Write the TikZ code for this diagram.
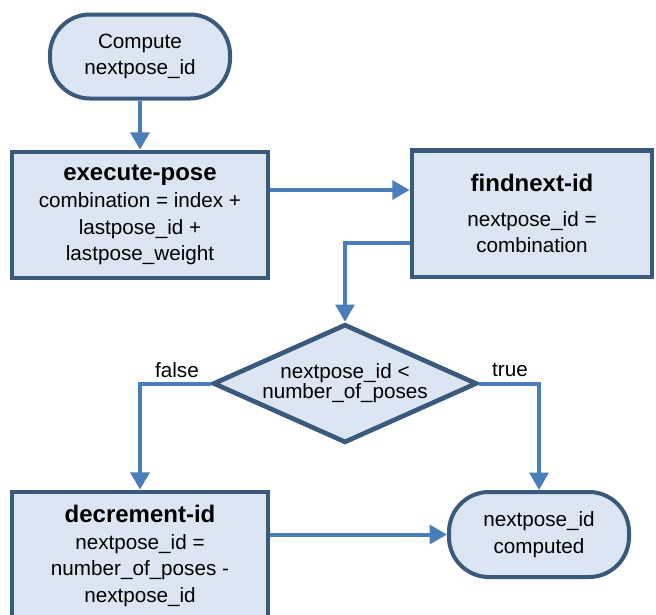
\documentclass[tikz,border=0pt]{standalone}
\usepackage{fontspec}
\setmainfont{Liberation Sans}
\usetikzlibrary{shapes.geometric,arrows.meta,positioning}

\definecolor{boxline}{RGB}{58,90,125}
\definecolor{boxfill}{RGB}{220,230,242}
\definecolor{flowline}{RGB}{74,126,187}
\newcommand{\ttl}[1]{{\fontsize{18}{22}\selectfont\bfseries #1}}

\begin{document}
\begin{tikzpicture}[
    x=0.75pt, y=-0.75pt,
    font=\fontsize{15.5}{20}\selectfont,
    proc/.style={draw=boxline, fill=boxfill, line width=3.5pt, rectangle, inner sep=4pt, align=center, minimum width=192pt},
    term/.style={draw=boxline, fill=boxfill, line width=3pt, rectangle, rounded corners=30pt, align=center, minimum width=135pt, minimum height=63pt},
    decide/.style={draw=boxline, fill=boxfill, line width=3.5pt, diamond, inner sep=0pt, minimum width=198pt, minimum height=89pt},
    flow/.style={draw=flowline, line width=3pt, -{Triangle[width=14pt,length=13pt]}},
    tag/.style={inner sep=1pt}
]
\clip (0,0) rectangle (656,614);

\node[term] (start) at (140,56.5) {Compute\\nextpose\_id};
\node[proc, minimum height=94.5pt] (exec) at (140,215) {\ttl{execute-pose}\\combination = index +\\lastpose\_id +\\lastpose\_weight};
\node[proc, minimum width=180pt, minimum height=95pt] (find) at (532,213.5) {\ttl{findnext-id}\\[6pt]nextpose\_id =\\combination};
\node[decide] (check) at (345,383.5) {};
\node[align=center, font=\fontsize{15.5}{15}\selectfont] (checktxt) at (check) {nextpose\_id <\\number\_of\_poses};
\node[proc, minimum height=96pt] (decr) at (140,556) {\ttl{decrement-id}\\nextpose\_id =\\number\_of\_poses -\\nextpose\_id};
\node[term, minimum height=63.75pt] (done) at (539,534.5) {nextpose\_id\\computed};
\node[tag] (no) at (177,370) {false};
\node[tag] (yes) at (510,370) {true};

\draw[flow] (start) -- (exec);
\coordinate (ef) at ([yshift=18.75pt]exec.east);
\draw[flow] (ef) -- (ef -| find.west);
\coordinate (fd) at ([yshift=-22pt]find.west);
\draw[flow] (fd) -| (check.north);
\draw[flow] (check.west) -| (decr.north);
\draw[flow] (check.east) -| (done.north);
\draw[flow] (decr.east |- done.west) -- (done.west);

\end{tikzpicture}
\end{document}
